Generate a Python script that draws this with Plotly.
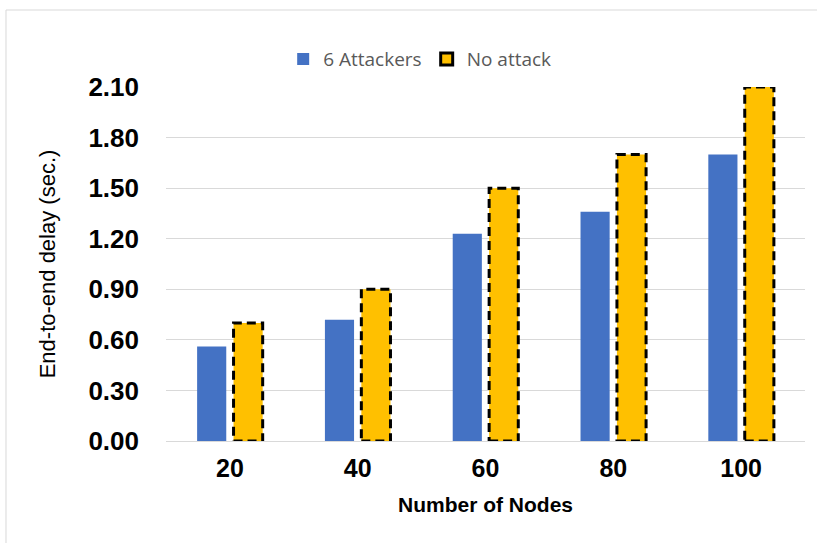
import plotly.graph_objects as go

categories = ["20", "40", "60", "80", "100"]
attack_values = [0.56, 0.72, 1.23, 1.36, 1.70]
noattack_values = [0.70, 0.90, 1.50, 1.70, 2.10]
y_ticks = [0.0, 0.3, 0.6, 0.9, 1.2, 1.5, 1.8, 2.1]
y_tick_labels = ["0.00", "0.30", "0.60", "0.90", "1.20", "1.50", "1.80", "2.10"]
series_names = ["6 Attackers", "No attack"]

BLUE = "#4472C4"
GOLD = "#FFC000"
GRID = "#D9D9D9"

BARGAP = 0.43
GROUPGAP = 0.2

fig = go.Figure()
fig.add_trace(go.Bar(x=categories, y=attack_values, name=series_names[0],
                     marker=dict(color=BLUE, line=dict(width=0))))
fig.add_trace(go.Bar(x=categories, y=noattack_values, name=series_names[1],
                     marker=dict(color=GOLD, line=dict(width=0)), showlegend=False))
# legend entry for the dashed-outline series
fig.add_trace(go.Scatter(x=[None], y=[None], mode="markers", name=series_names[1],
                         marker=dict(symbol="square", color=GOLD, size=12,
                                     line=dict(color="black", width=3))))

# dashed outlines for the "No attack" bars, derived from the data and bar geometry
slot = (1 - BARGAP) / 2
bw = slot * (1 - GROUPGAP)
for i, v in enumerate(noattack_values):
    c = i + slot / 2
    fig.add_shape(type="rect", xref="x", yref="y", x0=c - bw / 2, x1=c + bw / 2,
                  y0=0, y1=v, line=dict(color="black", width=3, dash="9px,5px"),
                  fillcolor="rgba(0,0,0,0)", layer="above")

# outer chart frame
fig.add_shape(type="rect", xref="paper", yref="paper", x0=-0.2504, x1=1.05,
              y0=-0.35, y1=1.2175, line=dict(color=GRID, width=1),
              fillcolor="rgba(0,0,0,0)")

fig.update_layout(
    width=817, height=543,
    margin=dict(l=166, r=12, t=87, b=102),
    paper_bgcolor="white", plot_bgcolor="white",
    barmode="group", bargap=BARGAP, bargroupgap=GROUPGAP,
    font=dict(family="Liberation Sans, Arial, sans-serif", color="black"),
    legend=dict(orientation="h", x=0.397, xanchor="center", y=1.079, yanchor="middle",
                font=dict(family="Open Sans, sans-serif", size=19, color="#595959"),
                itemclick=False),
    xaxis=dict(type="category", showgrid=False, zeroline=False, showline=False,
               ticks="", ticklabelstandoff=10,
               tickfont=dict(size=25, family="Liberation Sans, Arial", color="black", weight="bold"),
               title=dict(text="Number of Nodes", standoff=16,
                          font=dict(size=21, family="Liberation Sans, Arial", color="black", weight="bold"))),
    yaxis=dict(range=[0, 2.1], tickvals=y_ticks, ticktext=y_tick_labels,
               showgrid=True, gridcolor=GRID, gridwidth=1,
               zeroline=True, zerolinecolor=GRID, zerolinewidth=1, showline=False,
               ticks="", ticklabelstandoff=26,
               tickfont=dict(size=26, family="Liberation Sans, Arial", color="black", weight="bold"),
               title=dict(text="End-to-end delay (sec.)", standoff=26,
                          font=dict(size=22, family="Liberation Sans Narrow, Liberation Sans, Arial", color="black"))),
)

fig.write_html("out.html")
